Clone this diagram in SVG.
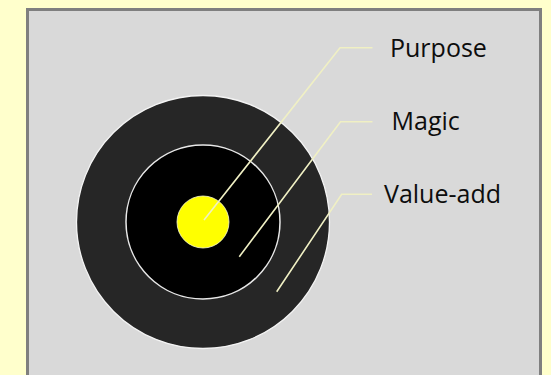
<svg xmlns="http://www.w3.org/2000/svg" width="551" height="375" viewBox="0 0 551 375">
  <style>
    .lbl { font-family: "Open Sans", "Liberation Sans", sans-serif; font-size: 25px; fill: #0d0d0d; }
    .conn { fill: none; stroke: #f0f0c4; stroke-width: 1.6; stroke-linejoin: miter; }
  </style>
  <rect x="0" y="0" width="551" height="375" fill="#ffffcc"/>
  <rect x="27.5" y="9.5" width="513" height="380" fill="#d9d9d9" stroke="#7f7f7f" stroke-width="3"/>
  <g id="value-add-ring">
    <circle cx="203" cy="222" r="126.5" fill="#262626" stroke="#f4f4f4" stroke-width="1.3"/>
  </g>
  <g id="magic-ring">
    <circle cx="203" cy="222" r="77" fill="#000000" stroke="#e8e8e8" stroke-width="1.5"/>
  </g>
  <g id="purpose-core">
    <circle cx="203" cy="222" r="26" fill="#ffff00" stroke="#fafad0" stroke-width="0.8"/>
  </g>
  <g id="connectors">
    <polyline class="conn" points="204,220 340,47.7 372.5,47.7"/>
    <polyline class="conn" points="239.3,256.7 340.5,121.7 372.5,121.7"/>
    <polyline class="conn" points="276.7,291.7 341.7,194.3 372,194.3"/>
  </g>
  <g id="label-purpose">
    <text class="lbl" x="390" y="56.5">Purpose</text>
  </g>
  <g id="label-magic">
    <text class="lbl" x="391.5" y="129.5">Magic</text>
  </g>
  <g id="label-value-add">
    <text class="lbl" x="384" y="202.5">Value-add</text>
  </g>
</svg>
